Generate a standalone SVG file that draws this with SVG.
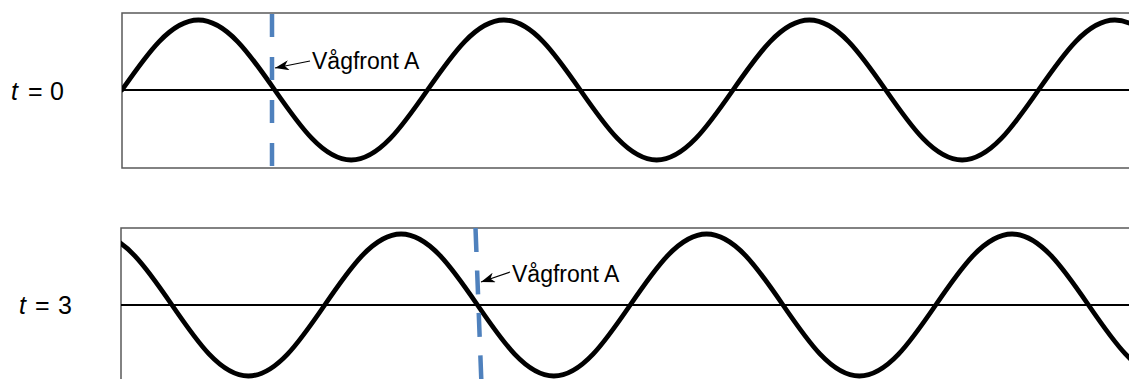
<svg xmlns="http://www.w3.org/2000/svg" width="1129" height="379" viewBox="0 0 1129 379">
<style>
.box{fill:none;stroke:#595959;stroke-width:1.5}
.axis{stroke:#000;stroke-width:2}
.wave{fill:none;stroke:#000;stroke-width:4.8;stroke-linejoin:round;stroke-linecap:round}
.front{stroke:#4F81BD;stroke-width:4.5;fill:none}
.lbl{font-family:"Liberation Sans",Arial,sans-serif;font-size:23px;fill:#000}
.tl{font-family:"Liberation Sans",Arial,sans-serif;font-size:25px;fill:#000}
.ptr{stroke:#000;stroke-width:1.2;fill:none}
</style>
<defs>
<marker id="ah" viewBox="0 0 14 10" refX="14" refY="5" markerWidth="14" markerHeight="10" markerUnits="userSpaceOnUse" orient="auto">
<path d="M0,0 L14,5 L0,10 L4,5 z" fill="#000"/>
</marker>
<clipPath id="c1"><rect x="122" y="13" width="1010" height="155"/></clipPath>
<clipPath id="c2"><rect x="121" y="228" width="1010" height="160"/></clipPath>
</defs>
<rect width="1129" height="379" fill="#fff"/>
<g id="panel-t0">
<rect class="box" x="122" y="13" width="1010" height="155"/>
<line class="axis" x1="122" y1="90" x2="1129" y2="90"/>
<path class="wave" clip-path="url(#c1)" d="M122,90 c24.91,-35.86 48.73,-70 76.375,-70 c27.64,0 51.465,34.14 76.375,70 c24.91,35.86 48.73,70 76.375,70 c27.64,0 51.465,-34.14 76.375,-70 c24.91,-35.86 48.73,-70 76.375,-70 c27.64,0 51.465,34.14 76.375,70 c24.91,35.86 48.73,70 76.375,70 c27.64,0 51.465,-34.14 76.375,-70 c24.91,-35.86 48.73,-70 76.375,-70 c27.64,0 51.465,34.14 76.375,70 c24.91,35.86 48.73,70 76.375,70 c27.64,0 51.465,-34.14 76.375,-70 c24.91,-35.86 48.73,-70 76.375,-70 c27.64,0 51.465,34.14 76.375,70"/>
<line class="front" x1="272" y1="14" x2="272" y2="168" stroke-dasharray="23 20"/>
<text class="tl" y="100"><tspan x="11" font-style="italic">t</tspan><tspan x="28">=</tspan><tspan x="50">0</tspan></text>
<text class="lbl" x="312" y="69">Vågfront A</text>
</g>
<g id="panel-t3">
<rect class="box" x="121" y="228" width="1010" height="200"/>
<line class="axis" x1="121" y1="305" x2="1129" y2="305"/>
<path class="wave" clip-path="url(#c2)" d="M95.6,234 c27.64,0 51.465,34.63 76.375,71 c24.91,36.37 48.73,71 76.375,71 c27.64,0 51.465,-34.63 76.375,-71 c24.91,-36.37 48.73,-71 76.375,-71 c27.64,0 51.465,34.63 76.375,71 c24.91,36.37 48.73,71 76.375,71 c27.64,0 51.465,-34.63 76.375,-71 c24.91,-36.37 48.73,-71 76.375,-71 c27.64,0 51.465,34.63 76.375,71 c24.91,36.37 48.73,71 76.375,71 c27.64,0 51.465,-34.63 76.375,-71 c24.91,-36.37 48.73,-71 76.375,-71 c27.64,0 51.465,34.63 76.375,71 c24.91,36.37 48.73,71 76.375,71"/>
<line class="front" x1="475.5" y1="228" x2="481.5" y2="385" stroke-dasharray="24 18.5"/>
<text class="tl" y="314"><tspan x="19" font-style="italic">t</tspan><tspan x="35">=</tspan><tspan x="58">3</tspan></text>
<text class="lbl" x="512" y="282">Vågfront A</text>
</g>
<g id="connectors">
<line class="ptr" x1="310" y1="61" x2="275" y2="68" marker-end="url(#ah)"/>
<line class="ptr" x1="510" y1="272" x2="481" y2="282" marker-end="url(#ah)"/>
</g>
</svg>
